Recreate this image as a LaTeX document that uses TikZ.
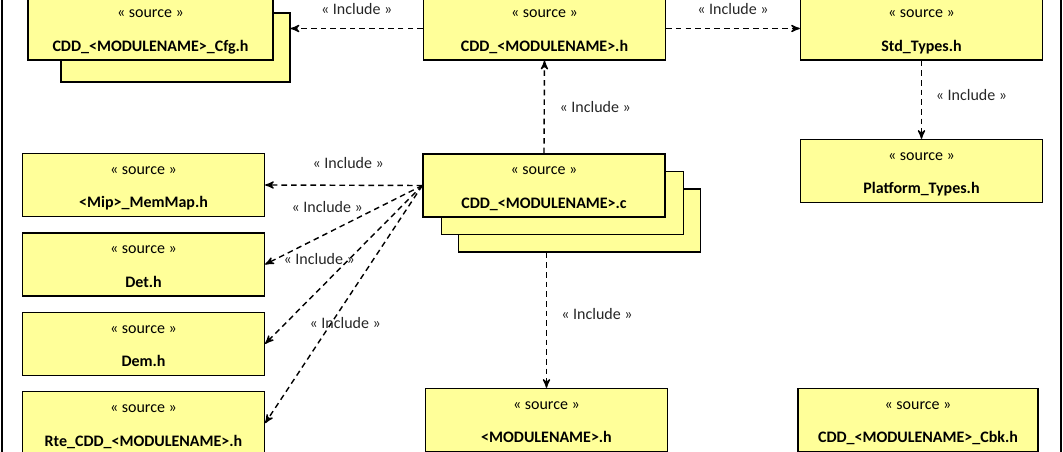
\documentclass[tikz,border=0pt]{standalone}
\usepackage{fontspec}
\setmainfont{Carlito}
\usepackage{tikz}
\usetikzlibrary{arrows}
\usetikzlibrary{positioning}
\definecolor{srcyellow}{RGB}{255,255,153}
\newcommand{\srctext}[1]{\rule{0pt}{9pt}« source »\\\textbf{#1}\rule[-2pt]{0pt}{2pt}}
\tikzset{
	boxnode/.style = {
		align=center,
		inner sep=0pt,
		font=\fontsize{9.1pt}{19pt}\selectfont,
		draw=black,
		fill=srcyellow,
		line width=0.8pt
	},
	node_src/.style = {
		boxnode,
		minimum width=4.84cm,
		minimum height=1.26cm
	},
	node_back/.style = {
		node_src
	},
	edge_inc/.style = {
		->,
		line width=0.8pt,
		dash pattern=on 3.2pt off 2.3pt
	},
	lbl_inc/.style = {
		inner sep=0pt,
		font=\fontsize{9.1pt}{11pt}\selectfont,
		text=black!85
	},
}

\begin{document}
\begin{tikzpicture}[x=0.02cm, y=-0.02cm, >=stealth']
\useasboundingbox (0,0) rectangle (1063,452);
\clip (0,0) rectangle (1063,452);
% frame
\draw[line width=0.9pt] (2,-10) rectangle (1061,470);

% stacked copies
\node [node_back, minimum width=4.58cm, minimum height=1.38cm] (cfgback) at (175.5,47.5) {};
\node [node_src, minimum width=4.9cm] (cfg) at (150.5,28.5) {\srctext{CDD\_<MODULENAME>\_Cfg.h}};
\node [node_back] (cddc3) at (579.5,220.5) {};
\node [node_back] (cddc2) at (562.5,203) {};
\node [node_src] (cddc) at (544,185.5) {\srctext{CDD\_<MODULENAME>.c}};

% headers
\node [node_src] (cddh) at (544.5,28.5) {\srctext{CDD\_<MODULENAME>.h}};
\node [node_src] (std) at (921.5,28.5) {\srctext{Std\_Types.h}};
\node [node_src] (plat) at (921.5,171) {\srctext{Platform\_Types.h}};
\node [node_src] (memmap) at (143.5,185) {\srctext{<Mip>\_MemMap.h}};
\node [node_src, below=0.3cm of memmap] (det) {\srctext{Det.h}};
\node [node_src, below=0.3cm of det] (dem) {\srctext{Dem.h}};
\node [node_src, below=0.3cm of dem] (rte) {\srctext{Rte\_CDD\_<MODULENAME>.h}};
\node [node_src] (modh) at (546.5,420) {\srctext{<MODULENAME>.h}};
\node [node_src, minimum width=4.8cm] (cbk) at (918,420) {\srctext{CDD\_<MODULENAME>\_Cbk.h}};

% includes
\draw [edge_inc] (cddh.west) -- (cddh.west -| cfgback.east)
	node [lbl_inc, midway, yshift=0.38cm] {« Include »};
\draw [edge_inc] (cddh.east) -- (std.west)
	node [lbl_inc, midway, yshift=0.38cm] {« Include »};
\draw [edge_inc] (std.south) -- (plat.north)
	node [lbl_inc, midway, xshift=1cm, yshift=0.09cm] {« Include »};
\draw [edge_inc] (cddc.north) -- (cddh.south)
	node [lbl_inc, midway, xshift=1.02cm] {« Include »};
\draw [edge_inc] (cddc.west) -- (memmap.east)
	node [lbl_inc, midway, xshift=0.09cm, yshift=0.44cm] {« Include »};
\draw [edge_inc] (cddc.west) -- (det.east)
	node [lbl_inc, midway, xshift=-0.33cm, yshift=0.36cm] {« Include »};
\draw [edge_inc] (cddc.west) -- (dem.east)
	node [lbl_inc, midway, xshift=-0.49cm, yshift=0.12cm] {« Include »};
\draw [edge_inc] (cddc.west) -- (rte.east)
	node [lbl_inc, midway, xshift=0.03cm, yshift=-0.38cm] {« Include »};
\draw [edge_inc] (cddc3.south -| modh.north) -- (modh.north)
	node [lbl_inc, midway, xshift=1.01cm, yshift=0.12cm] {« Include »};
\end{tikzpicture}
\end{document}
